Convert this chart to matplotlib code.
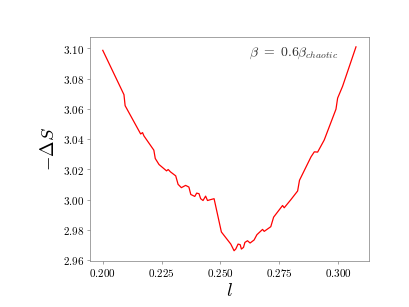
#!/usr/bin/env python3
"""Entropy difference -dS against l, beta = 0.6 beta_chaotic."""

import matplotlib
matplotlib.use('Agg')
import matplotlib.pyplot as plt
from matplotlib.ticker import FuncFormatter

plt.rcParams['mathtext.fontset'] = 'cm'

# values
l_vals = [0.2000, 0.2090, 0.2095, 0.2161, 0.2169, 0.2175, 0.2217, 0.2223,
          0.2239, 0.2271, 0.2278, 0.2288, 0.2310, 0.2320, 0.2334, 0.2352,
          0.2366, 0.2374, 0.2391, 0.2399, 0.2409, 0.2416, 0.2426, 0.2437,
          0.2445, 0.2456, 0.2473, 0.2504, 0.2544, 0.2558, 0.2565, 0.2575,
          0.2584, 0.2589, 0.2598, 0.2604, 0.2615, 0.2626, 0.2643, 0.2655,
          0.2679, 0.2686, 0.2714, 0.2726, 0.2764, 0.2771, 0.2799, 0.2828,
          0.2836, 0.2885, 0.2899, 0.2913, 0.2941, 0.2991, 0.2998, 0.3019,
          0.3076]
neg_dS = [3.0987, 3.0694, 3.0621, 3.0434, 3.0443, 3.0421, 3.0327, 3.0272,
          3.0232, 3.0190, 3.0199, 3.0183, 3.0157, 3.0101, 3.0079, 3.0094,
          3.0083, 3.0034, 3.0021, 3.0043, 3.0039, 3.0006, 2.9994, 3.0023,
          2.9994, 2.9999, 3.0006, 2.9786, 2.9706, 2.9662, 2.9673, 2.9706,
          2.9702, 2.9673, 2.9684, 2.9717, 2.9728, 2.9713, 2.9733, 2.9768,
          2.9803, 2.9790, 2.9821, 2.9884, 2.9961, 2.9946, 2.9999, 3.0057,
          3.0128, 3.0283, 3.0316, 3.0314, 3.0394, 3.0598, 3.0671, 3.0749,
          3.1010]

x_ticks = [0.200, 0.225, 0.250, 0.275, 0.300]
y_ticks = [2.96, 2.98, 3.00, 3.02, 3.04, 3.06, 3.08, 3.10]

fig, ax = plt.subplots(figsize=(6.4, 4.8), dpi=64)
fig.subplots_adjust(left=0.22, right=0.9, top=0.88, bottom=0.15)

ax.plot(l_vals, neg_dS, color='red', linewidth=1.4)

ax.set_xticks(x_ticks)
ax.set_yticks(y_ticks)
ax.xaxis.set_major_formatter(FuncFormatter(lambda v, p: f'${v:.3f}$'))
ax.yaxis.set_major_formatter(FuncFormatter(lambda v, p: f'${v:.2f}$'))
ax.tick_params(labelsize=12.5, length=3, color='#808080')
for sp in ax.spines.values():
    sp.set_color('#808080')

ax.set_xlabel('$l$', fontsize=21, labelpad=2)
ax.set_ylabel(r'$-\Delta S$', fontsize=21, labelpad=6)

ax.text(0.89, 0.925, r'$\beta\ =\ 0.6\beta_{chaotic}$', transform=ax.transAxes,
        ha='right', va='center', fontsize=15.5, color='#333333')

fig.savefig('out.png', dpi=64)
